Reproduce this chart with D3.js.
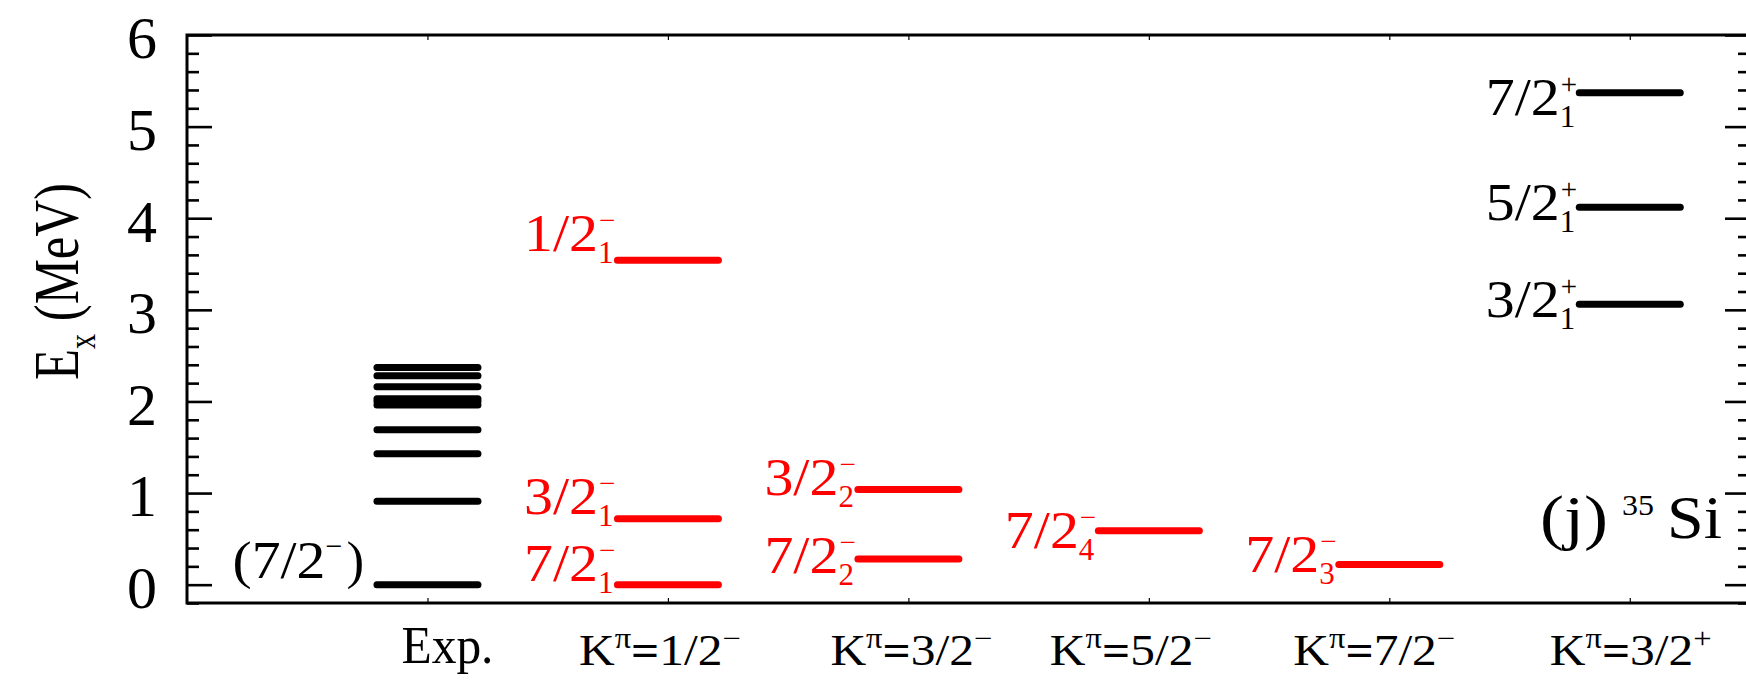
<!DOCTYPE html>
<html>
<head>
<meta charset="utf-8">
<script src="https://cdn.jsdelivr.net/npm/d3@7"></script>
<style>
  html, body { margin: 0; padding: 0; background: #fff; }
  svg { display: block; font-family: "Liberation Serif", "Times New Roman", serif; }
</style>
</head>
<body>
<div id="chart"></div>
<script>
// ---- data ----
const categories = ['Exp.', 'K1/2-', 'K3/2-', 'K5/2-', 'K7/2-', 'K3/2+'];
const kValues = ['1/2', '3/2', '5/2', '7/2', '3/2'];
const kParity = ['\u2212', '\u2212', '\u2212', '\u2212', '+'];

// experimental levels (MeV)
const expLevels = [0, 0.91, 1.43, 1.69, 1.96, 2.00, 2.03, 2.16, 2.28, 2.37];
const expGroundLabel = '7/2';

// calculated levels: band index, energy, spin, index, parity
const levelBand   = [1, 1, 1, 2, 2, 3, 4, 5, 5, 5];
const levelEnergy = [3.54, 0.72, 0, 1.04, 0.28, 0.59, 0.22, 3.06, 4.12, 5.37];
const levelSpin   = ['1/2', '3/2', '7/2', '3/2', '7/2', '7/2', '7/2', '3/2', '5/2', '7/2'];
const levelIndex  = ['1', '1', '1', '2', '2', '4', '3', '1', '1', '1'];
const levelParity = ['\u2212', '\u2212', '\u2212', '\u2212', '\u2212', '\u2212', '\u2212', '+', '+', '+'];

// ---- layout ----
const W = 1746, H = 681;
const labelDy = [-9, -5, -4, 6, 14, 17, 7, 13, 13, 22]; // label baseline vs. line (px)
const catLabelShift = [20, -8, 3, -18, -15, 1];          // category label centre vs. tick (px)

const svg = d3.select('#chart').append('svg')
    .attr('width', W)
    .attr('height', H);

const x = d3.scaleLinear().domain([0, 6.5]).range([187, 1750]);
const y = d3.scaleLinear().domain([-0.2, 6]).range([603, 35]);
const halfW = 0.21; // half length of a level line, in band units

// ticks
const major = d3.range(0, 7);
const minor = d3.range(-0.2, 6.01, 0.2).filter(v => Math.abs(v - Math.round(v)) > 1e-6);

const leftAx = svg.append('g').attr('transform', `translate(${x(0)},0)`);
leftAx.call(d3.axisLeft(y).tickValues(major).tickSize(-25).tickPadding(30).tickFormat(d3.format('d')));
leftAx.append('g').call(d3.axisLeft(y).tickValues(minor).tickSize(-12).tickFormat(''));
leftAx.selectAll('.domain').remove();
leftAx.selectAll('line').attr('stroke', '#000').attr('stroke-width', 2.6);
leftAx.selectAll('text')
    .attr('font-size', 60)
    .attr('font-family', '"Liberation Serif", serif')
    .attr('dy', '0.38em')
    .attr('fill', '#000');

const rightAx = svg.append('g').attr('transform', `translate(${x(6.5)},0)`);
rightAx.call(d3.axisRight(y).tickValues(major).tickSize(-25).tickFormat(''));
rightAx.append('g').call(d3.axisRight(y).tickValues(minor).tickSize(-12).tickFormat(''));
rightAx.selectAll('.domain').remove();
rightAx.selectAll('line').attr('stroke', '#000').attr('stroke-width', 2.6);

const bands = d3.range(1, categories.length + 1);
const bottomAx = svg.append('g').attr('transform', `translate(0,${y(-0.2)})`);
bottomAx.call(d3.axisBottom(x).tickValues(bands).tickSize(-5).tickFormat(''));
const topAx = svg.append('g').attr('transform', `translate(0,${y(6)})`);
topAx.call(d3.axisTop(x).tickValues(bands).tickSize(-5).tickFormat(''));
svg.selectAll('.domain').remove();
bottomAx.selectAll('line').attr('stroke', '#000').attr('stroke-width', 1.2);
topAx.selectAll('line').attr('stroke', '#000').attr('stroke-width', 1.2);

// frame
svg.append('rect')
    .attr('x', x(0))
    .attr('y', y(6))
    .attr('width', x(6.5) - x(0))
    .attr('height', y(-0.2) - y(6))
    .attr('fill', 'none')
    .attr('stroke', '#000')
    .attr('stroke-width', 3);

// y label
const yl = svg.append('text')
    .attr('font-size', 64)
    .attr('fill', '#000');
yl.append('tspan').text('E');
yl.append('tspan').attr('font-size', 38).attr('dy', 17).text('x');
yl.append('tspan').attr('dy', -17).text('\u00a0(MeV)');
{
    const len = yl.node().getComputedTextLength();
    const s = 197 / len;
    yl.attr('transform', `translate(78,${281.5 + 197 / 2}) rotate(-90) scale(${s},1)`);
}

// experimental levels
svg.append('g').selectAll('line')
    .data(expLevels)
    .enter()
    .append('line')
    .attr('x1', x(1 - halfW))
    .attr('x2', x(1 + halfW))
    .attr('y1', d => y(d))
    .attr('y2', d => y(d))
    .attr('stroke', '#000')
    .attr('stroke-width', 7)
    .attr('stroke-linecap', 'round');

// (7/2-) ground state label
{
    const bx = x(1) - 195;
    const by = y(expLevels[0]) - 7;
    svg.append('text').attr('x', bx).attr('y', by).attr('font-size', 53)
        .attr('textLength', 93).attr('lengthAdjust', 'spacingAndGlyphs')
        .text('(' + expGroundLabel);
    svg.append('text').attr('x', bx + 93).attr('y', by - 22).attr('font-size', 30).text('\u2212');
    svg.append('text').attr('x', bx + 114).attr('y', by).attr('font-size', 53).text(')');
}

// calculated levels
const levels = levelEnergy.map((e, i) => ({
    band: levelBand[i], e: e, spin: levelSpin[i], idx: levelIndex[i], par: levelParity[i], dy: labelDy[i]
}));
const colorOf = d => d.par === '+' ? '#000' : '#ff0000';

svg.append('g').selectAll('line')
    .data(levels)
    .enter()
    .append('line')
    .attr('x1', d => x(d.band + 1 - halfW))
    .attr('x2', d => x(d.band + 1 + halfW))
    .attr('y1', d => y(d.e))
    .attr('y2', d => y(d.e))
    .attr('stroke', colorOf)
    .attr('stroke-width', 7)
    .attr('stroke-linecap', 'round');

// each label is one text: spin, then parity raised, then index lowered under it
const lab = svg.append('g').selectAll('text')
    .data(levels)
    .enter()
    .append('text')
    .attr('fill', colorOf)
    .attr('transform', d => `translate(${x(d.band + 1) - 70},${y(d.e) + d.dy})`);
lab.append('tspan')
    .attr('x', 0)
    .attr('text-anchor', 'end')
    .attr('font-size', 52)
    .attr('textLength', 74)
    .attr('lengthAdjust', 'spacingAndGlyphs')
    .text(d => d.spin);
lab.append('tspan')
    .attr('x', 1)
    .attr('y', -21)
    .attr('font-size', 29)
    .text(d => d.par);
lab.append('tspan')
    .attr('x', 0)
    .attr('y', 12)
    .attr('font-size', 31)
    .text(d => d.idx);

// category labels
const catG = svg.append('g').selectAll('text')
    .data(categories)
    .enter()
    .append('text')
    .attr('fill', '#000');
catG.each(function (d, i) {
    const t = d3.select(this);
    let target;
    if (i === 0) {
        t.attr('font-size', 53).text(d);
        target = 92;
    } else {
        t.attr('font-size', 44);
        t.append('tspan').text('K');
        t.append('tspan').attr('font-size', 29).attr('dy', -17).text('\u03c0');
        t.append('tspan').attr('dy', 17).attr('font-weight', 'bold').text('=');
        t.append('tspan').text(kValues[i - 1]);
        t.append('tspan').attr('font-size', 29).attr('dy', -17).text(kParity[i - 1]);
        target = 162;
    }
    const len = this.getComputedTextLength();
    const s = target / len;
    const cx = x(i + 1) + catLabelShift[i];
    t.attr('transform', `translate(${cx - target / 2},${i === 0 ? 663 : 665}) scale(${s},1)`);
});

// panel tag
svg.append('text').attr('x', 1540).attr('y', 538).attr('font-size', 62)
    .attr('textLength', 68).attr('lengthAdjust', 'spacingAndGlyphs').text('(j)');
svg.append('text').attr('x', 1622).attr('y', 515).attr('font-size', 30)
    .attr('textLength', 32).attr('lengthAdjust', 'spacingAndGlyphs').text('35');
svg.append('text').attr('x', 1667).attr('y', 538).attr('font-size', 62)
    .attr('textLength', 55).attr('lengthAdjust', 'spacingAndGlyphs').text('Si');
</script>
</body>
</html>
